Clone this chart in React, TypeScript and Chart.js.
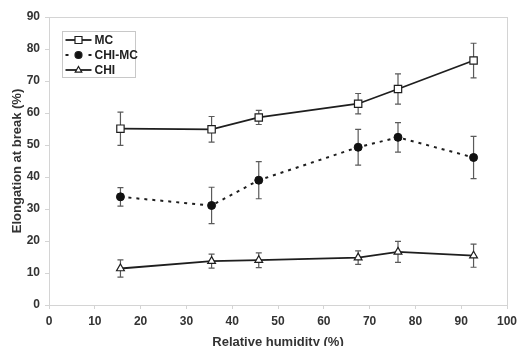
import React, { useEffect, useRef } from "react";
import { Chart, registerables } from "chart.js";

Chart.register(...registerables);

const humidity = [15.6, 35.5, 45.8, 67.5, 76.2, 92.7];
const mcValues = [55.1, 54.9, 58.6, 62.9, 67.5, 76.4];
const mcErrors = [5.2, 4.0, 2.2, 3.2, 4.7, 5.4];
const chiMcValues = [33.8, 31.1, 39.0, 49.3, 52.4, 46.1];
const chiMcErrors = [2.9, 5.7, 5.8, 5.6, 4.6, 6.6];
const chiValues = [11.4, 13.7, 14.0, 14.8, 16.6, 15.4];
const chiErrors = [2.7, 2.2, 2.3, 2.1, 3.3, 3.6];
const seriesNames = ["MC", "CHI-MC", "CHI"];
const xTitle = "Relative humidity (%)";
const yTitle = "Elongation at break (%)";

const FONT = "'Liberation Sans', Arial, sans-serif";
const INK = "#1e1e1e";
const TEXT = "#333333";
const AXIS = "#d4d4d4";

const errorsList = [mcErrors, chiMcErrors, chiErrors];

const errorBarPlugin = {
  id: "errorBars",
  beforeDatasetsDraw(chart: any) {
    const { ctx, scales } = chart;
    const xs = scales.x;
    const ys = scales.y;
    ctx.save();
    ctx.strokeStyle = "#5a5a5a";
    ctx.lineWidth = 1.2;
    chart.data.datasets.forEach((ds: any, i: number) => {
      const errs = errorsList[i];
      ds.data.forEach((p: any, j: number) => {
        const px = xs.getPixelForValue(p.x);
        const top = ys.getPixelForValue(p.y + errs[j]);
        const bot = ys.getPixelForValue(p.y - errs[j]);
        ctx.beginPath();
        ctx.moveTo(px, top);
        ctx.lineTo(px, bot);
        ctx.moveTo(px - 3, top);
        ctx.lineTo(px + 3, top);
        ctx.moveTo(px - 3, bot);
        ctx.lineTo(px + 3, bot);
        ctx.stroke();
      });
    });
    ctx.restore();
  },
};

const frameAndLegendPlugin = {
  id: "frameLegend",
  beforeDatasetsDraw(chart: any) {
    const { ctx, chartArea } = chart;
    ctx.save();
    ctx.strokeStyle = AXIS;
    ctx.lineWidth = 1;
    ctx.strokeRect(
      Math.round(chartArea.left) + 0.5,
      Math.round(chartArea.top) + 0.5,
      Math.round(chartArea.right - chartArea.left),
      Math.round(chartArea.bottom - chartArea.top)
    );
    ctx.restore();
  },
  afterDraw(chart: any) {
    const { ctx, chartArea } = chart;
    const bx = chartArea.left + 13.5;
    const by = chartArea.top + 14.5;
    const bw = 73;
    const bh = 46;
    ctx.save();
    ctx.fillStyle = "#ffffff";
    ctx.fillRect(bx, by, bw, bh);
    ctx.strokeStyle = "#c8c8c8";
    ctx.lineWidth = 1;
    ctx.strokeRect(bx, by, bw, bh);
    const rows = [by + 8.5, by + 23.5, by + 38.5];
    chart.data.datasets.forEach((ds: any, i: number) => {
      const y = rows[i];
      const x0 = bx + 3;
      const x1 = bx + 29;
      const mx = (x0 + x1) / 2;
      ctx.strokeStyle = INK;
      ctx.lineWidth = 1.8;
      if (ds.borderDash && ds.borderDash.length) {
        ctx.fillStyle = INK;
        ctx.fillRect(x0, y - 1, 3, 2);
        ctx.fillRect(x1 - 3, y - 1, 3, 2);
      } else {
        ctx.beginPath();
        ctx.moveTo(x0, y);
        ctx.lineTo(x1, y);
        ctx.stroke();
      }
      ctx.lineWidth = 1.2;
      ctx.fillStyle = ds.pointBackgroundColor;
      ctx.strokeStyle = INK;
      ctx.beginPath();
      if (ds.pointStyle === "rect") {
        ctx.rect(mx - 3.5, y - 3.5, 7, 7);
      } else if (ds.pointStyle === "triangle") {
        ctx.moveTo(mx, y - 3.5);
        ctx.lineTo(mx + 3.3, y + 2.2);
        ctx.lineTo(mx - 3.3, y + 2.2);
        ctx.closePath();
      } else {
        ctx.arc(mx, y, 3.5, 0, Math.PI * 2);
      }
      ctx.fill();
      ctx.stroke();
      ctx.fillStyle = "#222222";
      ctx.font = `bold 12px ${FONT}`;
      ctx.textAlign = "left";
      ctx.textBaseline = "middle";
      ctx.fillText(seriesNames[i], bx + 32, y + 0.5);
    });
    ctx.restore();
  },
};

export default function App() {
  const ref = useRef<HTMLCanvasElement | null>(null);

  useEffect(() => {
    const canvas = ref.current;
    if (!canvas) return;
    const toPts = (vals: number[]) => vals.map((v, i) => ({ x: humidity[i], y: v }));
    const chart = new Chart(canvas, {
      type: "line",
      data: {
        datasets: [
          {
            label: seriesNames[0],
            data: toPts(mcValues),
            borderColor: INK,
            borderWidth: 1.8,
            pointStyle: "rect",
            pointRadius: 5.2,
            pointBackgroundColor: "#ffffff",
            pointBorderColor: INK,
            pointBorderWidth: 1.2,
            tension: 0,
          },
          {
            label: seriesNames[1],
            data: toPts(chiMcValues),
            borderColor: INK,
            borderWidth: 2,
            borderDash: [3, 5],
            pointStyle: "circle",
            pointRadius: 4,
            pointBackgroundColor: "#111111",
            pointBorderColor: "#111111",
            pointBorderWidth: 1,
            tension: 0,
          },
          {
            label: seriesNames[2],
            data: toPts(chiValues),
            borderColor: INK,
            borderWidth: 1.8,
            pointStyle: "triangle",
            pointRadius: 4.5,
            pointBackgroundColor: "#ffffff",
            pointBorderColor: INK,
            pointBorderWidth: 1.2,
            tension: 0,
          },
        ],
      } as any,
      options: {
        animation: false,
        responsive: false,
        devicePixelRatio: 1,
        layout: { padding: { left: 0, right: 10, top: 17, bottom: 0 } },
        plugins: {
          legend: { display: false },
          tooltip: { enabled: false },
        },
        scales: {
          x: {
            type: "linear",
            min: 0,
            max: 100,
            afterFit: (s: any) => {
              s.height = 41;
              s.paddingRight = 0;
            },
            ticks: {
              stepSize: 10,
              padding: 5,
              color: TEXT,
              font: { family: FONT, size: 12, weight: "bold" },
            },
            grid: {
              drawOnChartArea: false,
              drawTicks: true,
              tickLength: 4,
              color: AXIS,
            },
            border: { display: true, color: AXIS },
            title: {
              display: true,
              text: xTitle,
              color: TEXT,
              font: { family: FONT, size: 13, weight: "bold" },
              padding: { top: 0, bottom: -4 },
            },
          },
          y: {
            type: "linear",
            min: 0,
            max: 90,
            afterFit: (s: any) => {
              s.width = 49;
            },
            ticks: {
              stepSize: 10,
              padding: 5,
              color: TEXT,
              font: { family: FONT, size: 12, weight: "bold" },
            },
            grid: {
              drawOnChartArea: false,
              drawTicks: true,
              tickLength: 4,
              color: AXIS,
            },
            border: { display: true, color: AXIS },
            title: {
              display: true,
              text: yTitle,
              color: TEXT,
              font: { family: FONT, size: 13, weight: "bold" },
              padding: { top: 10, bottom: 0 },
            },
          },
        },
      } as any,
      plugins: [frameAndLegendPlugin, errorBarPlugin],
    });
    return () => chart.destroy();
  }, []);

  return (
    <div style={{ position: "fixed", left: 0, top: 0, width: 517, height: 346, background: "#ffffff" }}>
      <canvas ref={ref} width={517} height={346} style={{ display: "block" }} />
    </div>
  );
}
